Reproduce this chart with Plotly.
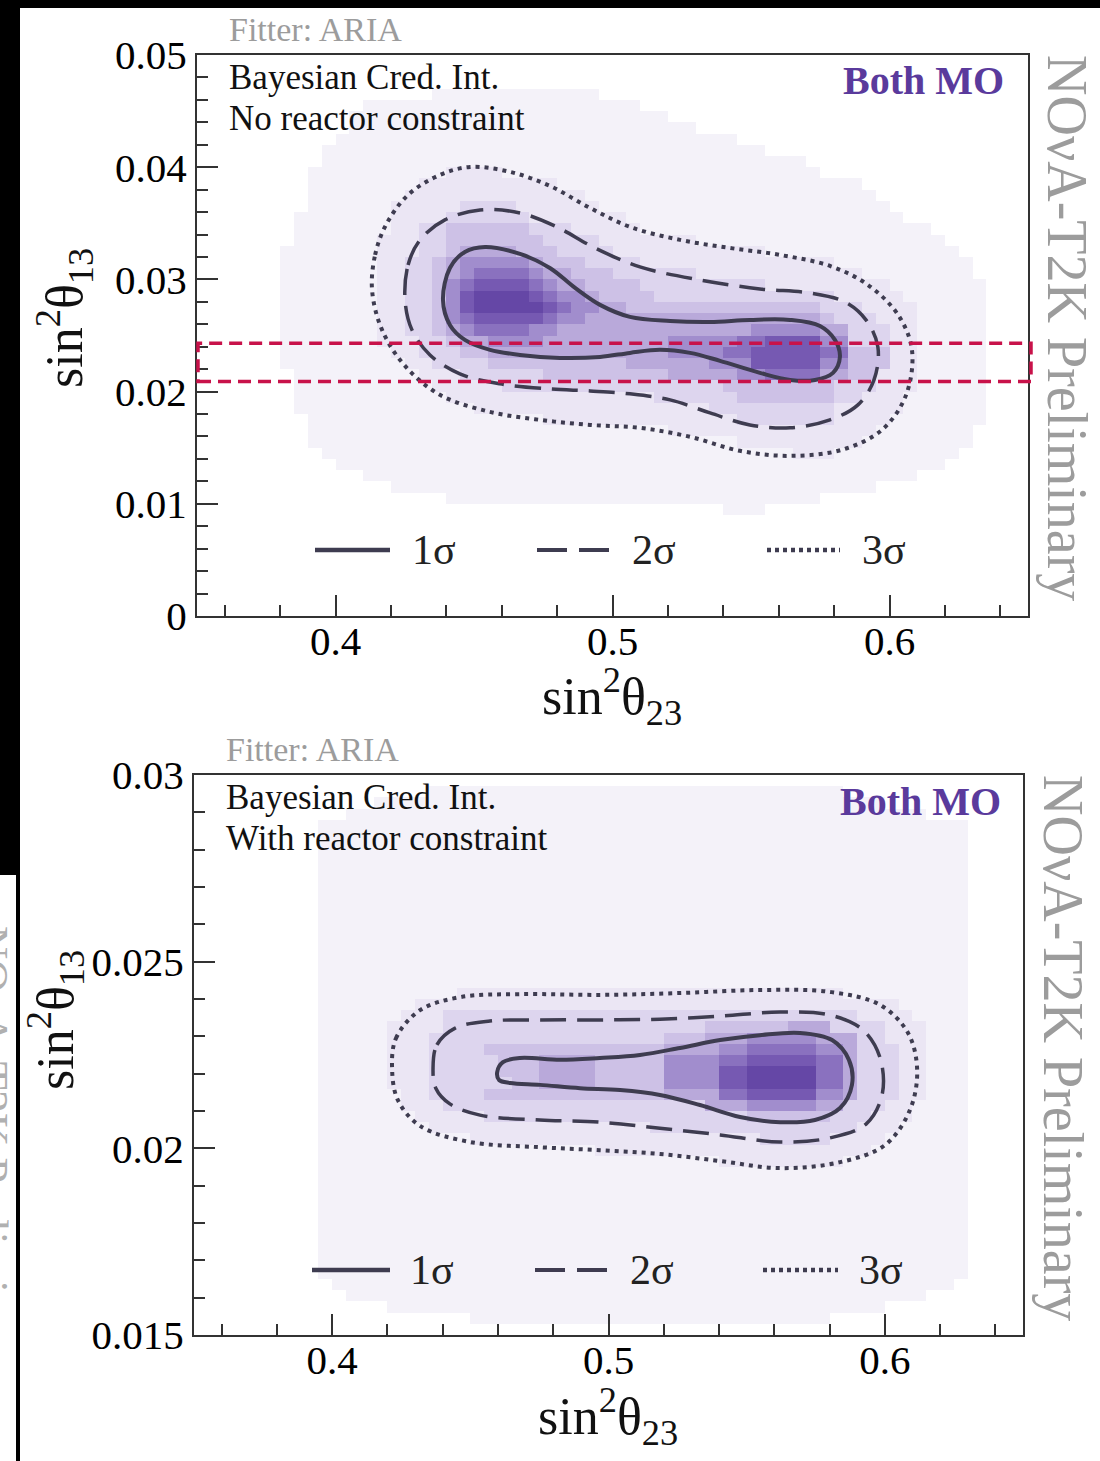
import numpy as np
import plotly.graph_objects as go

W, H = 1100, 1461
FONT = "Liberation Serif"

# ---------------- data ----------------
X_RANGE = [0.35, 0.65]
TOP_Y_RANGE = [0.0, 0.05]
BOT_Y_RANGE = [0.015, 0.03]
BIN_X = 0.005
TOP_BIN_Y = 0.001
BOT_BIN_Y = 0.0003
N_COLS = 60
N_ROWS = 50

# posterior density level (1 = faint .. 9 = darkest)
# row index (from bottom): (first column, [(level, run length), ...])
TOP_ROWS = {
    46: (17, [(1, 12)]),
    45: (12, [(1, 20)]),
    44: (11, [(1, 23)]),
    43: (11, [(1, 25)]),
    42: (10, [(1, 29)]),
    41: (9, [(1, 32)]),
    40: (9, [(1, 35)]),
    39: (8, [(1, 10), (2, 4), (1, 23)]),
    38: (8, [(1, 8), (2, 10), (1, 22)]),
    37: (8, [(1, 7), (2, 13), (1, 21)]),
    36: (8, [(1, 6), (2, 5), (3, 4), (2, 6), (1, 21)]),
    35: (7, [(1, 7), (2, 4), (3, 6), (2, 7), (1, 20)]),
    34: (7, [(1, 7), (2, 2), (3, 2), (4, 6), (3, 3), (2, 5), (1, 21)]),
    33: (7, [(1, 6), (2, 3), (3, 2), (4, 7), (3, 4), (2, 7), (1, 18)]),
    32: (6, [(1, 7), (2, 3), (3, 2), (4, 1), (5, 4), (4, 3), (3, 4), (2, 11), (1, 14)]),
    31: (6, [(1, 7), (2, 2), (3, 2), (4, 1), (5, 1), (6, 5), (5, 1), (4, 3), (3, 4), (2, 14), (1, 10)]),
    30: (6, [(1, 7), (2, 2), (3, 2), (4, 1), (5, 1), (6, 1), (7, 4), (6, 1), (5, 2), (4, 3), (3, 6), (2, 12), (1, 8)]),
    29: (6, [(1, 7), (2, 2), (3, 2), (4, 1), (6, 1), (7, 1), (8, 4), (7, 1), (6, 1), (5, 2), (4, 4), (3, 9), (2, 9), (1, 7)]),
    28: (6, [(1, 7), (2, 2), (3, 2), (4, 1), (6, 1), (8, 1), (9, 4), (8, 1), (7, 1), (6, 2), (5, 1), (4, 4), (3, 13), (2, 5), (1, 6)]),
    27: (6, [(1, 7), (2, 2), (3, 2), (4, 1), (6, 1), (8, 1), (9, 5), (8, 1), (7, 1), (6, 2), (5, 2), (4, 14), (3, 3), (2, 4), (1, 5)]),
    26: (6, [(1, 7), (2, 2), (3, 2), (4, 1), (6, 1), (7, 1), (8, 5), (7, 1), (6, 2), (5, 17), (4, 1), (3, 3), (2, 3), (1, 5)]),
    25: (6, [(1, 7), (2, 2), (3, 2), (4, 1), (5, 1), (6, 1), (7, 4), (6, 2), (5, 14), (6, 5), (5, 2), (3, 3), (2, 2), (1, 5)]),
    24: (6, [(1, 7), (2, 3), (3, 2), (4, 1), (5, 2), (6, 4), (5, 9), (6, 5), (7, 2), (8, 4), (6, 2), (3, 3), (2, 2), (1, 5)]),
    23: (6, [(1, 8), (2, 2), (3, 3), (4, 2), (5, 13), (6, 4), (7, 2), (8, 5), (7, 2), (4, 3), (2, 2), (1, 5)]),
    22: (6, [(1, 9), (2, 2), (3, 4), (4, 10), (5, 6), (6, 3), (8, 5), (6, 2), (4, 3), (2, 2), (1, 5)]),
    21: (7, [(1, 9), (2, 3), (3, 6), (4, 9), (5, 5), (6, 2), (7, 4), (5, 2), (4, 2), (2, 3), (1, 5)]),
    20: (7, [(1, 10), (2, 5), (3, 16), (4, 8), (3, 3), (2, 3), (1, 5)]),
    19: (7, [(1, 11), (2, 15), (3, 6), (4, 7), (3, 2), (2, 3), (1, 6)]),
    18: (7, [(1, 13), (2, 17), (3, 9), (2, 5), (1, 6)]),
    17: (8, [(1, 17), (2, 14), (3, 7), (2, 4), (1, 7)]),
    16: (8, [(1, 26), (2, 15), (1, 7)]),
    15: (8, [(1, 31), (2, 9), (1, 8)]),
    14: (9, [(1, 34), (2, 3), (1, 9)]),
    13: (10, [(1, 44)]),
    12: (12, [(1, 40)]),
    11: (14, [(1, 35)]),
    10: (18, [(1, 27)]),
    9: (38, [(1, 3)]),
}

BOT_ROWS = {
    48: (17, [(1, 30)]),
    47: (13, [(1, 37)]),
    46: (11, [(1, 42)]),
    45: (9, [(1, 47)]),
    44: (9, [(1, 47)]),
    43: (9, [(1, 47)]),
    42: (9, [(1, 47)]),
    41: (9, [(1, 47)]),
    40: (9, [(1, 47)]),
    39: (9, [(1, 47)]),
    38: (9, [(1, 47)]),
    37: (9, [(1, 47)]),
    36: (9, [(1, 47)]),
    35: (9, [(1, 47)]),
    34: (9, [(1, 47)]),
    33: (9, [(1, 47)]),
    32: (9, [(1, 47)]),
    31: (9, [(1, 47)]),
    30: (9, [(1, 10), (2, 28), (1, 9)]),
    29: (9, [(1, 7), (2, 35), (1, 5)]),
    28: (9, [(1, 6), (2, 3), (3, 30), (2, 4), (1, 4)]),
    27: (9, [(1, 5), (2, 4), (3, 19), (4, 6), (5, 3), (3, 4), (2, 3), (1, 3)]),
    26: (9, [(1, 5), (2, 3), (3, 17), (4, 3), (5, 3), (6, 5), (5, 3), (3, 2), (2, 3), (1, 3)]),
    25: (9, [(1, 5), (2, 3), (3, 4), (4, 13), (5, 4), (6, 2), (7, 5), (6, 2), (5, 1), (3, 3), (2, 2), (1, 3)]),
    24: (9, [(1, 5), (2, 3), (3, 5), (4, 3), (5, 4), (4, 5), (6, 4), (7, 2), (8, 5), (7, 2), (5, 1), (3, 3), (2, 2), (1, 3)]),
    23: (9, [(1, 5), (2, 3), (3, 5), (4, 3), (5, 4), (4, 5), (6, 4), (8, 2), (9, 5), (7, 2), (5, 1), (3, 3), (2, 2), (1, 3)]),
    22: (9, [(1, 5), (2, 3), (3, 6), (4, 2), (5, 4), (4, 5), (6, 4), (8, 2), (9, 5), (7, 2), (5, 1), (3, 3), (2, 2), (1, 3)]),
    21: (9, [(1, 6), (2, 2), (3, 4), (4, 13), (5, 4), (7, 2), (8, 5), (6, 2), (5, 1), (3, 3), (2, 2), (1, 3)]),
    20: (9, [(1, 6), (2, 3), (3, 19), (5, 3), (6, 5), (5, 2), (3, 3), (2, 2), (1, 4)]),
    19: (9, [(1, 7), (2, 5), (3, 19), (4, 6), (3, 3), (2, 3), (1, 4)]),
    18: (9, [(1, 8), (2, 16), (3, 15), (2, 3), (1, 5)]),
    17: (9, [(1, 11), (2, 21), (3, 5), (2, 4), (1, 6)]),
    16: (9, [(1, 20), (2, 20), (1, 7)]),
    15: (9, [(1, 29), (2, 9), (1, 9)]),
    14: (9, [(1, 47)]),
    13: (9, [(1, 47)]),
    12: (9, [(1, 47)]),
    11: (9, [(1, 47)]),
    10: (9, [(1, 47)]),
    9: (9, [(1, 47)]),
    8: (9, [(1, 47)]),
    7: (9, [(1, 47)]),
    6: (9, [(1, 47)]),
    5: (9, [(1, 47)]),
    4: (10, [(1, 45)]),
    3: (11, [(1, 42)]),
    2: (14, [(1, 36)]),
    1: (20, [(1, 26)]),
}

LEVEL_COLORS = ["#f4f2f9", "#ebe6f4", "#ddd5ee", "#cdc1e6", "#b9a9da",
                "#a18dcd", "#8a71bf", "#7659b2", "#6547a6"]

# credible-interval contours (sin^2 theta23, sin^2 theta13)
TOP_1S_X = [0.4388, 0.4413, 0.4467, 0.4540, 0.4666, 0.4774, 0.4865, 0.4955, 0.5063, 0.5208,
            0.5352, 0.5496, 0.5641, 0.5749, 0.5803, 0.5821, 0.5796, 0.5731, 0.5641, 0.5532,
            0.5388, 0.5280, 0.5171, 0.5063, 0.4955, 0.4810, 0.4666, 0.4558, 0.4467, 0.4413]
TOP_1S_Y = [0.02817, 0.03102, 0.03245, 0.03289, 0.03227, 0.03102, 0.02924, 0.02773, 0.02666, 0.02630,
            0.02621, 0.02639, 0.02639, 0.02585, 0.02461, 0.02309, 0.02167, 0.02104, 0.02104, 0.02167,
            0.02274, 0.02345, 0.02372, 0.02345, 0.02309, 0.02300, 0.02327, 0.02372, 0.02461, 0.02594]
TOP_2S_X = [0.4251, 0.4262, 0.4305, 0.4395, 0.4522, 0.4666, 0.4792, 0.4937, 0.5099, 0.5316,
            0.5532, 0.5713, 0.5839, 0.5915, 0.5958, 0.5944, 0.5886, 0.5785, 0.5641, 0.5496,
            0.5352, 0.5208, 0.5063, 0.4919, 0.4774, 0.4594, 0.4449, 0.4341, 0.4276]
TOP_2S_Y = [0.02817, 0.03129, 0.03352, 0.03530, 0.03619, 0.03592, 0.03476, 0.03280, 0.03111, 0.02995,
            0.02915, 0.02879, 0.02799, 0.02639, 0.02398, 0.02104, 0.01882, 0.01748, 0.01677, 0.01703,
            0.01810, 0.01926, 0.01980, 0.02006, 0.02024, 0.02069, 0.02158, 0.02327, 0.02550]
TOP_3S_X = [0.4132, 0.4143, 0.4182, 0.4262, 0.4377, 0.4486, 0.4630, 0.4774, 0.4919, 0.5063,
            0.5244, 0.5424, 0.5605, 0.5785, 0.5922, 0.6031, 0.6081, 0.6060, 0.5973, 0.5828,
            0.5641, 0.5460, 0.5280, 0.5099, 0.4919, 0.4738, 0.4558, 0.4377, 0.4251, 0.4168]
TOP_3S_Y = [0.02906, 0.03218, 0.03485, 0.03753, 0.03931, 0.04002, 0.03958, 0.03833, 0.03637, 0.03468,
            0.03352, 0.03280, 0.03218, 0.03120, 0.02951, 0.02684, 0.02372, 0.01971, 0.01659, 0.01481,
            0.01427, 0.01472, 0.01597, 0.01677, 0.01703, 0.01748, 0.01819, 0.01971, 0.02229, 0.02550]

BOT_1S_X = [0.4597, 0.4618, 0.4680, 0.4825, 0.4969, 0.5114, 0.5259, 0.5404, 0.5548, 0.5693,
            0.5809, 0.5870, 0.5881, 0.5838, 0.5747, 0.5621, 0.5476, 0.5331, 0.5186, 0.5042,
            0.4897, 0.4752, 0.4644, 0.4604]
BOT_1S_Y = [0.02204, 0.02231, 0.02242, 0.02237, 0.02242, 0.02250, 0.02269, 0.02290, 0.02303, 0.02309,
            0.02290, 0.02237, 0.02170, 0.02108, 0.02076, 0.02070, 0.02084, 0.02116, 0.02143, 0.02156,
            0.02161, 0.02170, 0.02175, 0.02183]
BOT_2S_X = [0.4365, 0.4379, 0.4445, 0.4571, 0.4752, 0.4969, 0.5186, 0.5404, 0.5621, 0.5802,
            0.5921, 0.5983, 0.5990, 0.5932, 0.5802, 0.5621, 0.5404, 0.5186, 0.4969, 0.4752,
            0.4535, 0.4426, 0.4375]
BOT_2S_Y = [0.02215, 0.02277, 0.02322, 0.02341, 0.02344, 0.02344, 0.02346, 0.02354, 0.02365, 0.02357,
            0.02317, 0.02242, 0.02143, 0.02065, 0.02028, 0.02017, 0.02036, 0.02054, 0.02070, 0.02076,
            0.02089, 0.02119, 0.02161]
BOT_3S_X = [0.4217, 0.4231, 0.4318, 0.4463, 0.4680, 0.4969, 0.5259, 0.5548, 0.5802, 0.5983,
            0.6084, 0.6117, 0.6091, 0.6001, 0.5838, 0.5621, 0.5404, 0.5186, 0.4969, 0.4752,
            0.4499, 0.4318, 0.4238]
BOT_3S_Y = [0.02210, 0.02295, 0.02370, 0.02405, 0.02413, 0.02411, 0.02416, 0.02424, 0.02419, 0.02384,
            0.02309, 0.02210, 0.02103, 0.02009, 0.01963, 0.01947, 0.01966, 0.01985, 0.01995, 0.02003,
            0.02017, 0.02060, 0.02129]

REACTOR_BAND = [0.0209, 0.0243]

LEGEND_LABELS = ["1σ", "2σ", "3σ"]

# ---------------- styles ----------------
LINE_COLOR = "#3e3c50"
STYLES = [dict(width=4, dash="solid"),
          dict(width=3.5, dash="26px,11px"),
          dict(width=4, dash="4px,5px")]


def build_grid(rows):
    z = np.full((N_ROWS, N_COLS), np.nan)
    for r, (start, runs) in rows.items():
        c = start
        for level, n in runs:
            z[r, c:c + n] = level
            c += n
    return z


def stepped_scale(colors):
    n = len(colors)
    scale = []
    for i, col in enumerate(colors):
        scale.append([i / n, col])
        scale.append([(i + 1) / n, col])
    return scale


fig = go.Figure()
cs = stepped_scale(LEVEL_COLORS)

fig.add_trace(go.Heatmap(z=build_grid(TOP_ROWS), x0=X_RANGE[0] + BIN_X / 2, dx=BIN_X,
                         y0=TOP_Y_RANGE[0] + TOP_BIN_Y / 2, dy=TOP_BIN_Y,
                         colorscale=cs, zmin=0.5, zmax=9.5, showscale=False,
                         hoverinfo="skip", xaxis="x", yaxis="y"))
fig.add_trace(go.Heatmap(z=build_grid(BOT_ROWS), x0=X_RANGE[0] + BIN_X / 2, dx=BIN_X,
                         y0=BOT_Y_RANGE[0] + BOT_BIN_Y / 2, dy=BOT_BIN_Y,
                         colorscale=cs, zmin=0.5, zmax=9.5, showscale=False,
                         hoverinfo="skip", xaxis="x2", yaxis="y2"))

top_contours = [(TOP_1S_X, TOP_1S_Y), (TOP_2S_X, TOP_2S_Y), (TOP_3S_X, TOP_3S_Y)]
bot_contours = [(BOT_1S_X, BOT_1S_Y), (BOT_2S_X, BOT_2S_Y), (BOT_3S_X, BOT_3S_Y)]
for (cx, cy), st in zip(top_contours, STYLES):
    fig.add_trace(go.Scatter(x=cx + cx[:1], y=cy + cy[:1], mode="lines",
                             line=dict(color=LINE_COLOR, shape="spline", smoothing=1, **st),
                             showlegend=False, hoverinfo="skip", xaxis="x", yaxis="y"))
for (cx, cy), st in zip(bot_contours, STYLES):
    fig.add_trace(go.Scatter(x=cx + cx[:1], y=cy + cy[:1], mode="lines",
                             line=dict(color=LINE_COLOR, shape="spline", smoothing=1, **st),
                             showlegend=False, hoverinfo="skip", xaxis="x2", yaxis="y2"))

axis_common = dict(showline=True, mirror=True, linecolor="#333333", linewidth=2,
                   ticks="inside", tickcolor="#333333", tickwidth=2, ticklen=21,
                   showgrid=False, zeroline=False, automargin=False,
                   tickfont=dict(family=FONT, size=41, color="black"))


def minor(dt):
    return dict(dtick=dt, ticks="inside", ticklen=11, tickcolor="#333333", tickwidth=2, showgrid=False)


fig.update_layout(
    template="none",
    width=W, height=H, autosize=False, margin=dict(l=0, r=0, t=0, b=0, pad=0),
    paper_bgcolor="white", plot_bgcolor="white", showlegend=False,
    xaxis=dict(domain=[197 / W, 1028 / W], range=X_RANGE, anchor="y", ticklabelstandoff=-12,
               tickmode="linear", tick0=0.4, dtick=0.1, minor=minor(0.02), **axis_common),
    yaxis=dict(domain=[1 - 616 / H, 1 - 55 / H], range=TOP_Y_RANGE, anchor="x",
               tickmode="linear", tick0=0.0, dtick=0.01, minor=minor(0.002), **axis_common),
    xaxis2=dict(domain=[194 / W, 1023 / W], range=X_RANGE, anchor="y2", ticklabelstandoff=-12,
                tickmode="linear", tick0=0.4, dtick=0.1, minor=minor(0.02), **axis_common),
    yaxis2=dict(domain=[1 - 1335 / H, 1 - 775 / H], range=BOT_Y_RANGE, anchor="x2",
                tickmode="linear", tick0=0.015, dtick=0.005, minor=minor(0.001), **axis_common),
)

shapes = []
# page decorations (black borders of the screenshot)
shapes.append(dict(type="rect", xref="paper", yref="paper", x0=0, x1=20 / W, y0=1 - 875 / H, y1=1,
                   fillcolor="black", line=dict(width=0), layer="above"))
shapes.append(dict(type="rect", xref="paper", yref="paper", x0=0, x1=1, y0=1 - 8 / H, y1=1,
                   fillcolor="black", line=dict(width=0), layer="above"))
shapes.append(dict(type="rect", xref="paper", yref="paper", x0=16 / W, x1=20 / W, y0=0, y1=1 - 875 / H,
                   fillcolor="black", line=dict(width=0), layer="above"))
# reactor constraint band
shapes.append(dict(type="rect", xref="paper", yref="y", x0=198 / W, x1=1031 / W,
                   y0=REACTOR_BAND[0], y1=REACTOR_BAND[1],
                   line=dict(color="#c8124a", width=3.5, dash="13px,7px"), fillcolor="rgba(0,0,0,0)",
                   layer="above"))

# legend keys
legend_rows = [(550, [(315, 390), (537, 612), (767, 840)], [410, 630, 860]),
               (1270, [(312, 390), (535, 610), (763, 838)], [408, 628, 857])]
LEGEND_DASH = ["solid", "30px,12px", "4px,4px"]
annotations = []
for py, segs, txs in legend_rows:
    for (xa, xb), st, dsh, tx, lab in zip(segs, STYLES, LEGEND_DASH, txs, LEGEND_LABELS):
        shapes.append(dict(type="line", xref="paper", yref="paper", x0=xa / W, x1=xb / W,
                           y0=1 - py / H, y1=1 - py / H,
                           line=dict(color=LINE_COLOR, width=st["width"] + 0.5, dash=dsh)))
        annotations.append(dict(text=lab, x=tx / W, y=1 - py / H, xref="paper", yref="paper",
                                xanchor="left", yanchor="middle", showarrow=False,
                                font=dict(family=FONT, size=42, color="#222222")))


def ann(text, px, py, size, color="#111111", xanchor="left", angle=0, bold=False):
    annotations.append(dict(text=f"<b>{text}</b>" if bold else text, x=px / W, y=1 - py / H,
                            xref="paper", yref="paper", xanchor=xanchor, yanchor="middle",
                            showarrow=False, textangle=angle,
                            font=dict(family=FONT, size=size, color=color)))


GRAY = "#9c9c9c"
PURPLE = "#5a3a9c"
# top panel texts
ann("Fitter: ARIA", 227, 30, 34, GRAY)
ann("Bayesian Cred. Int.", 227, 77, 35)
ann("No reactor constraint", 227, 118, 35)
ann("Both MO", 1006, 81, 40, PURPLE, xanchor="right", bold=True)
ann("NOνA-T2K Preliminary", 1067, 328, 56, GRAY, xanchor="center", angle=90)
ann("sin<sup>2</sup>θ<sub>23</sub>", 612, 697, 52, "#111111", xanchor="center")
ann("sin<sup>2</sup>θ<sub>13</sub>", 64, 318, 52, "#111111", xanchor="center", angle=-90)
# bottom panel texts
ann("Fitter: ARIA", 224, 750, 34, GRAY)
ann("Bayesian Cred. Int.", 224, 797, 35)
ann("With reactor constraint", 224, 838, 35)
ann("Both MO", 1003, 802, 40, PURPLE, xanchor="right", bold=True)
ann("NOνA-T2K Preliminary", 1063, 1048, 56, GRAY, xanchor="center", angle=90)
ann("sin<sup>2</sup>θ<sub>23</sub>", 608, 1416, 52, "#111111", xanchor="center")
ann("sin<sup>2</sup>θ<sub>13</sub>", 55, 1020, 52, "#111111", xanchor="center", angle=-90)
# cut-off watermark on the left edge
ann("NOνA-T2K Preliminary", -8, 1150, 46, "#b0b0b0", xanchor="center", angle=90)

fig.update_layout(shapes=shapes, annotations=annotations)
fig.write_html("out.html")
